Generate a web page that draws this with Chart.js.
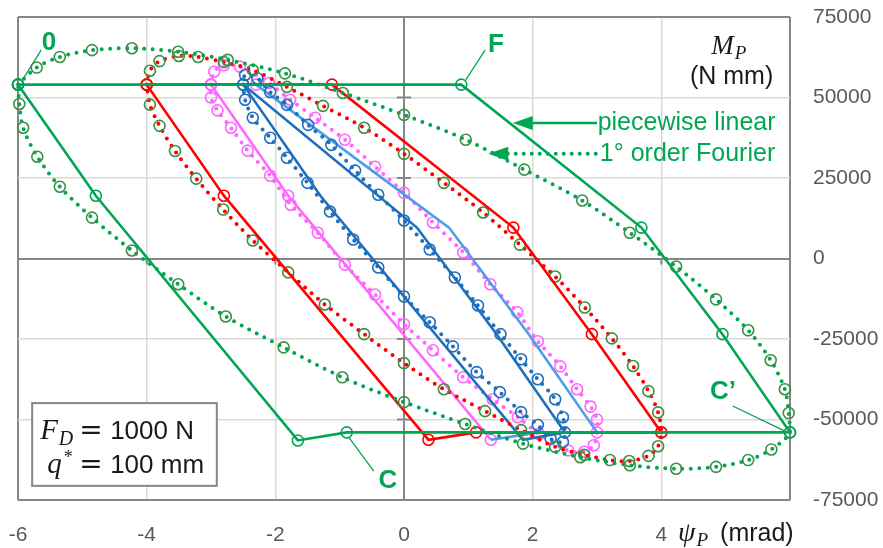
<!DOCTYPE html>
<html>
<head>
<meta charset="utf-8">
<script src="https://cdn.jsdelivr.net/npm/chart.js@4.4.1/dist/chart.umd.min.js"></script>
<style>
  html, body { margin: 0; padding: 0; background: #fff; }
  #wrap { width: 883px; height: 548px; }
</style>
</head>
<body>
<div id="wrap"><canvas id="loops" width="883" height="548"></canvas></div>
<script>
// axis ticks
const xTicks = [-6, -4, -2, 0, 2, 4, 6];
const yTicks = [-75000, -50000, -25000, 0, 25000, 50000, 75000];

// piecewise linear loops (psi in mrad, M in N mm)
const greenPwX = [-6, -4.79, -1.65, -0.89, 6, 4.95, 3.69, 0.89, -6];
const greenPwY = [54000, 19500, -56500, -54000, -54000, -23500, 9600, 54000, 54000];
const redPwX = [-4, -2.8, 0.38, 1.12, 4, 2.92, 1.7, -1.12, -4];
const redPwY = [54000, 19500, -56300, -54000, -54000, -23500, 9600, 54000, 54000];
const magentaPwX = [-2.3, -3, -1.8, 1.35];
const magentaPwY = [54000, 54000, 19500, -56300];
const lightBluePwX = [1.35, 2.11, 3, 1.94, 0.7, -2.3];
const lightBluePwY = [-56300, -54000, -54000, -23500, 9600, 54000];
const bluePwX = [-2.5, -1.3, 1.85, 2.5, 1.44, 0.2, -2.5];
const bluePwY = [54000, 19500, -56300, -54000, -23500, 9600, 54000];

// 1st order Fourier loops
const greenFx = [-6, -5.71, -5.35, -4.85, -4.23, -3.51, -2.74, -1.85, -0.95, 0, 0.96, 1.87, 2.77, 3.51, 4.23, 4.85, 5.35, 5.7, 5.92, 5.98, 6,
  5.71, 5.35, 4.85, 4.23, 3.51, 2.74, 1.85, 0.95, 0, -0.96, -1.87, -2.77, -3.51, -4.23, -4.85, -5.35, -5.7, -5.92, -5.98, -6];
const greenFy = [54000, 59300, 62600, 64700, 65300, 64200, 61700, 57500, 51400, 44600, 36900, 27600, 18000, 8000, -2500, -12700, -22300, -31600, -40600, -48000, -54000,
  -59300, -62600, -64700, -65300, -64200, -61700, -57500, -51400, -44600, -36900, -27600, -18000, -8000, 2500, 12700, 22300, 31600, 40600, 48000, 54000];
const redFx = [-4, -3.95, -3.8, -3.5, -3.2, -2.8, -2.35, -1.82, -1.26, -0.62, 0, 0.62, 1.23, 1.8, 2.35, 2.81, 3.23, 3.56, 3.8, 3.95, 4,
  3.95, 3.8, 3.5, 3.2, 2.8, 2.35, 1.82, 1.26, 0.62, 0, -0.62, -1.23, -1.8, -2.35, -2.81, -3.23, -3.56, -3.8, -3.95, -4];
const redFy = [54000, 58300, 61300, 62900, 62600, 61000, 58500, 53300, 47400, 40600, 32500, 23500, 14300, 4300, -5600, -15200, -24800, -33400, -41200, -47800, -54000,
  -58300, -61300, -62900, -62600, -61000, -58500, -53300, -47400, -40600, -32500, -23500, -14300, -4300, 5600, 15200, 24800, 33400, 41200, 47800, 54000];
const magentaFx = [-3, -2.95, -2.8, -2.55, -2.1, -1.77, -1.38, -0.92, -0.45, 0, 0.45, 0.92, 1.34, 1.76, 2.08, 2.43, 2.69, 2.9, 3, 3,
  2.95, 2.8, 2.55, 2.1, 1.77, 1.38, 0.92, 0.45, 0, -0.45, -0.92, -1.34, -1.76, -2.08, -2.43, -2.69, -2.9, -3, -3];
const magentaFy = [54000, 58000, 60000, 59600, 54500, 49300, 43700, 36900, 28500, 20400, 11200, 1900, -8000, -16700, -25700, -33500, -40600, -46000, -50000, -54000,
  -58000, -60000, -59600, -54500, -49300, -43700, -36900, -28500, -20400, -11200, -1900, 8000, 16700, 25700, 33500, 40600, 46000, 50000, 54000];
const blueFx = [-2.5, -2.47, -2.28, -2.08, -1.82, -1.49, -1.13, -0.76, -0.4, 0, 0.4, 0.79, 1.15, 1.5, 1.82, 2.08, 2.35, 2.47, 2.5,
  2.47, 2.28, 2.08, 1.82, 1.49, 1.13, 0.76, 0.4, 0, -0.4, -0.79, -1.15, -1.5, -1.82, -2.08, -2.35, -2.47, -2.5];
const blueFy = [54000, 57000, 56000, 51700, 47700, 41500, 35300, 27300, 19800, 11800, 2800, -5900, -14600, -23500, -31300, -37500, -43700, -49300, -54000,
  -57000, -56000, -51700, -47700, -41500, -35300, -27300, -19800, -11800, -2800, 5900, 14600, 23500, 31300, 37500, 43700, 49300, 54000];

const GREEN = '#00a651', GREEN_MK = '#3b9043', RED = '#ff0000', MAGENTA = '#ff66ff';
const BLUE = '#1f6fbd', LIGHT_BLUE = '#4d9de8', GRID = '#d9d9d9', AXIS = '#868686';

const pts = (xs, ys) => xs.map((v, i) => ({ x: v, y: ys[i] }));

function solid(xs, ys, color, markers) {
  return {
    data: pts(xs, ys), showLine: true, borderColor: color, borderWidth: 2.6,
    pointRadius: markers ? 5.5 : 0, pointBorderColor: color, pointBorderWidth: 1.6,
    pointBackgroundColor: 'rgba(0,0,0,0)', tension: 0, clip: false
  };
}
function dotted(xs, ys, color, markColor) {
  return {
    data: pts(xs, ys), showLine: true, borderColor: color, borderWidth: 4,
    borderDash: [0, 8.5], borderCapStyle: 'round',
    pointRadius: 5.5, pointBorderColor: markColor, pointBorderWidth: 1.6,
    pointBackgroundColor: 'rgba(0,0,0,0)', tension: 0.3, clip: false
  };
}

// first dataset ends up on top
const datasets = [
  solid(greenPwX, greenPwY, GREEN, true),
  dotted(greenFx, greenFy, GREEN, GREEN_MK),
  solid(redPwX, redPwY, RED, true),
  dotted(redFx, redFy, RED, GREEN_MK),
  solid(bluePwX, bluePwY, BLUE, false),
  dotted(blueFx, blueFy, BLUE, BLUE),
  solid(lightBluePwX, lightBluePwY, LIGHT_BLUE, false),
  solid(magentaPwX, magentaPwY, MAGENTA, true),
  dotted(magentaFx, magentaFy, MAGENTA, MAGENTA)
];

const isEdge = (v, lim) => v === 0 || Math.abs(v) === lim;

// little cross ticks on the zero axes
const axisTicks = {
  id: 'axisTicks',
  beforeDatasetsDraw(chart) {
    const { ctx, scales: { x, y } } = chart;
    ctx.save();
    ctx.strokeStyle = AXIS;
    ctx.lineWidth = 2;
    yTicks.filter(v => !isEdge(v, 75000)).forEach(v => {
      ctx.beginPath();
      ctx.moveTo(x.getPixelForValue(0) - 7, y.getPixelForValue(v));
      ctx.lineTo(x.getPixelForValue(0) + 7, y.getPixelForValue(v));
      ctx.stroke();
    });
    xTicks.filter(v => !isEdge(v, 6)).forEach(v => {
      ctx.beginPath();
      ctx.moveTo(x.getPixelForValue(v), y.getPixelForValue(0));
      ctx.lineTo(x.getPixelForValue(v), y.getPixelForValue(0) + 6);
      ctx.stroke();
    });
    ctx.restore();
  }
};

// draws a run of differently styled text pieces from left to right
function richText(ctx, x, base, pieces) {
  pieces.forEach(p => {
    ctx.font = p.font;
    ctx.fillText(p.t, x + (p.dx || 0), base + (p.dy || 0));
    x += ctx.measureText(p.t).width + (p.dx || 0);
  });
  return x;
}

const labels = {
  id: 'labels',
  afterDatasetsDraw(chart) {
    const { ctx, chartArea: a, scales: { x, y } } = chart;
    const X = v => x.getPixelForValue(v), Y = v => y.getPixelForValue(v);
    ctx.save();

    // point names with leader lines
    const names = [
      { t: '0', at: [-5.52, 66900], from: [-5.92, 55800], to: [-5.64, 64700] },
      { t: 'F', at: [1.43, 66300], from: [0.96, 55500], to: [1.26, 64700] },
      { t: 'C', at: [-0.25, -69100], from: [-0.86, -55500], to: [-0.47, -66000] },
      { t: 'C\u2019', at: [4.96, -41500], from: [5.92, -53600], to: [5.11, -45800] }
    ];
    ctx.strokeStyle = GREEN;
    ctx.fillStyle = GREEN;
    ctx.lineWidth = 1.3;
    ctx.font = 'bold 26px "Liberation Sans", Arial, sans-serif';
    ctx.textAlign = 'center';
    ctx.textBaseline = 'middle';
    names.forEach(n => {
      ctx.beginPath();
      ctx.moveTo(X(n.from[0]), Y(n.from[1]));
      ctx.lineTo(X(n.to[0]), Y(n.to[1]));
      ctx.stroke();
      ctx.fillText(n.t, X(n.at[0]), Y(n.at[1]));
    });

    // legend arrows
    const arrow = (x0, x1, yv, dash) => {
      const py = Y(yv), tip = X(x1);
      ctx.save();
      ctx.lineWidth = dash ? 4 : 2.4;
      ctx.lineCap = dash ? 'round' : 'butt';
      ctx.setLineDash(dash ? [0, 8] : []);
      ctx.beginPath();
      ctx.moveTo(X(x0), py);
      ctx.lineTo(tip + 12, py);
      ctx.stroke();
      ctx.restore();
      ctx.beginPath();
      ctx.moveTo(tip, py);
      ctx.lineTo(tip + 20, py - 7);
      ctx.lineTo(tip + 20, py + 7);
      ctx.closePath();
      ctx.fill();
    };
    arrow(3.0, 1.69, 42100, false);
    arrow(2.98, 1.31, 32500, true);

    ctx.font = '25px "Liberation Sans", Arial, sans-serif';
    ctx.textAlign = 'left';
    ctx.fillText('piecewise linear', X(3.01), Y(42100));
    ctx.textAlign = 'right';
    ctx.fillText('1\u00b0 order Fourier', X(5.77), Y(32500));

    // y axis quantity
    ctx.fillStyle = '#1a1a1a';
    ctx.fillText('(N mm)', X(5.74), Y(56400));
    ctx.textAlign = 'left';
    ctx.textBaseline = 'alphabetic';
    richText(ctx, X(5.35) - 37, Y(66300) + 9, [
      { t: 'M', font: 'italic 27px "Liberation Serif", serif' },
      { t: 'P', font: 'italic 19px "Liberation Serif", serif', dy: 5, dx: 1 }
    ]);

    // load case box
    const bx = X(-5.78), by = Y(-44900), bw = X(-2.91) - bx, bh = Y(-70600) - by;
    ctx.fillStyle = '#fff';
    ctx.fillRect(bx, by, bw, bh);
    ctx.strokeStyle = AXIS;
    ctx.lineWidth = 2;
    ctx.strokeRect(bx, by, bw, bh);
    ctx.fillStyle = '#1a1a1a';
    const serifI = 'italic 29px "Liberation Serif", serif';
    const sans = '26px "Liberation Sans", Arial, sans-serif';
    richText(ctx, bx + 8, by + 36, [{ t: 'F', font: serifI }, { t: 'D', font: 'italic 20px "Liberation Serif", serif', dy: 6, dx: 1 }]);
    richText(ctx, bx + 47, by + 36, [{ t: '=', font: '28px "DejaVu Sans", sans-serif' }]);
    richText(ctx, bx + 78, by + 36, [{ t: '1000 N', font: sans }]);
    richText(ctx, bx + 15, by + 70, [{ t: 'q', font: serifI }, { t: '*', font: '18px "Liberation Serif", serif', dy: -10, dx: 2 }]);
    richText(ctx, bx + 47, by + 70, [{ t: '=', font: '28px "DejaVu Sans", sans-serif' }]);
    richText(ctx, bx + 78, by + 70, [{ t: '100 mm', font: sans }]);

    // x axis quantity
    ctx.fillStyle = '#1a1a1a';
    richText(ctx, X(4.26), a.bottom + 41, [
      { t: '\u03c8', font: 'italic 28px "Liberation Serif", serif' },
      { t: 'P', font: 'italic 19px "Liberation Serif", serif', dy: 5, dx: 1 },
      { t: '(mrad)', font: '25px "Liberation Sans", Arial, sans-serif', dx: 12 }
    ]);
    ctx.restore();
  }
};

const gridColor = lim => c => isEdge(c.tick.value, lim) ? AXIS : GRID;
const gridWidth = lim => c => isEdge(c.tick.value, lim) ? 2 : 1.5;
const tickFont = { family: '"Liberation Sans", Arial, sans-serif', size: 21 };

new Chart(document.getElementById('loops'), {
  type: 'scatter',
  data: { datasets },
  options: {
    responsive: false,
    animation: false,
    devicePixelRatio: 1,
    layout: { padding: { left: 18, top: 17, right: 0, bottom: 0 } },
    plugins: { legend: { display: false }, tooltip: { enabled: false } },
    scales: {
      x: {
        type: 'linear', position: 'bottom', min: -6, max: 6,
        afterBuildTicks: s => { s.ticks = xTicks.map(v => ({ value: v })); },
        afterFit: s => { s.height = 48; s.paddingLeft = 0; s.paddingRight = 0; },
        ticks: { color: '#595959', font: tickFont, padding: 23, callback: v => (v === 6 ? '' : v) },
        grid: { color: gridColor(6), lineWidth: gridWidth(6), drawTicks: false },
        border: { display: false }
      },
      y: {
        type: 'linear', position: 'right', min: -75000, max: 75000,
        afterBuildTicks: s => { s.ticks = yTicks.map(v => ({ value: v })); },
        afterFit: s => { s.width = 93; s.paddingTop = 0; s.paddingBottom = 0; },
        ticks: { color: '#595959', font: tickFont, padding: 23, crossAlign: 'near', callback: v => String(v) },
        grid: { color: gridColor(75000), lineWidth: gridWidth(75000), drawTicks: false },
        border: { display: false }
      }
    }
  },
  plugins: [axisTicks, labels]
});
</script>
</body>
</html>
